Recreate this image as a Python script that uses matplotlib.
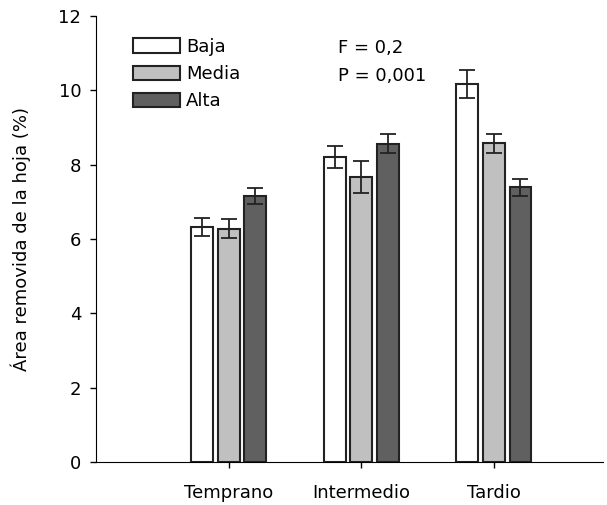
import matplotlib
matplotlib.use('Agg')
import matplotlib.pyplot as plt
import numpy as np

# datos
epocas = ['Temprano', 'Intermedio', 'Tardio']
niveles = ['Baja', 'Media', 'Alta']
baja = [6.33, 8.21, 10.17]
media = [6.28, 7.67, 8.58]
alta = [7.16, 8.57, 7.39]
err_baja = [0.24, 0.30, 0.38]
err_media = [0.26, 0.43, 0.26]
err_alta = [0.21, 0.26, 0.22]

colores = ['white', '#c0c0c0', '#606060']

plt.rcParams['font.family'] = ['DejaVu Sans']
plt.rcParams['font.size'] = 13

fig = plt.figure(figsize=(6.07, 5.05), dpi=100)
ax = fig.add_axes([0.158, 0.085, 0.835, 0.883])

x = np.arange(1, len(epocas) + 1)
ancho = 0.165
paso = 0.2
series = [baja, media, alta]
errores = [err_baja, err_media, err_alta]
for i, (vals, errs) in enumerate(zip(series, errores)):
    ax.bar(x + (i - 1) * paso, vals, ancho, color=colores[i], edgecolor='#222222',
           linewidth=1.5, label=niveles[i], zorder=2)
    ax.errorbar(x + (i - 1) * paso, vals, yerr=errs, fmt='none', ecolor='#222222',
                elinewidth=1.3, capsize=5.5, capthick=1.3, zorder=3)

ax.set_xlim(0, 3.82)
ax.set_ylim(0, 12)
ax.set_yticks(range(0, 13, 2))
ax.set_xticks(x)
ax.set_xticklabels(epocas)
ax.set_ylabel('Área removida de la hoja (%)', labelpad=20)
ax.spines['top'].set_visible(False)
ax.spines['right'].set_visible(False)
ax.tick_params(axis='y', direction='out', length=4.5, width=1, pad=6)
ax.tick_params(axis='x', direction='out', length=4.5, width=1, pad=11)

ax.legend(loc='upper left', bbox_to_anchor=(0.073, 0.952), frameon=False,
          handlelength=2.6, handleheight=0.85, labelspacing=0.52,
          handletextpad=0.35, borderpad=0, borderaxespad=0)

ax.text(0.477, 0.928, 'F = 0,2', transform=ax.transAxes, ha='left', va='center')
ax.text(0.477, 0.865, 'P = 0,001', transform=ax.transAxes, ha='left', va='center')

fig.savefig('out.png', dpi=100)
